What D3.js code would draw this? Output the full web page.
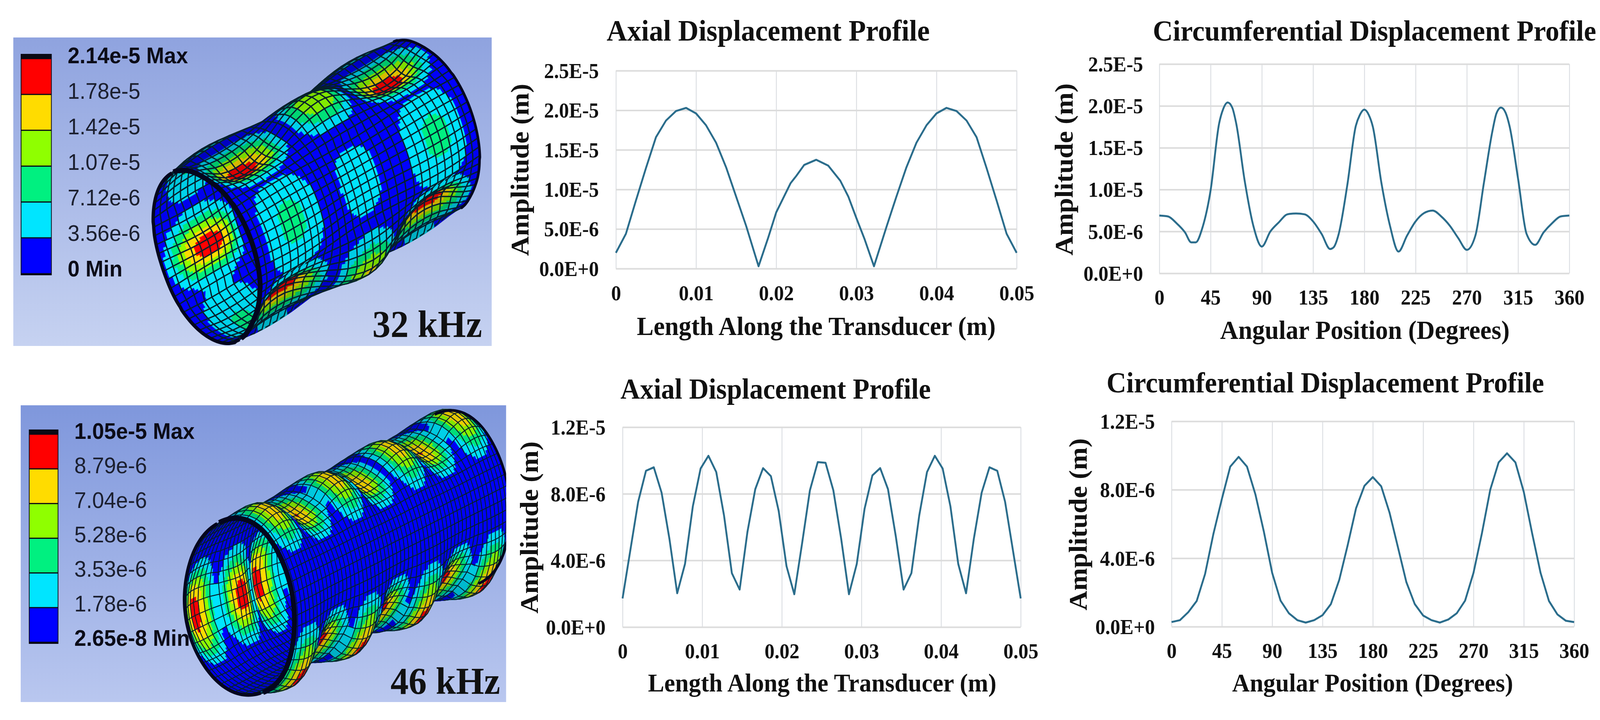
<!DOCTYPE html>
<html>
<head>
<meta charset="utf-8">
<script src="https://cdn.jsdelivr.net/npm/d3@7"></script>
<style>
  html, body { margin: 0; padding: 0; background: #fff; overflow: hidden; }
  text { font-family: "Liberation Serif", serif; font-weight: bold; fill: #111; }
  .legend text { font-family: "Liberation Sans", sans-serif; font-weight: normal; fill: #1c2030; }
  .legend text.ends { font-weight: bold; fill: #0c0c18; }
</style>
</head>
<body>
<div id="figure"></div>
<script>
// values, amplitudes in units of 1e-6 m
var axial32X = [0, 0.00125, 0.0025, 0.00375, 0.005, 0.00625, 0.0075, 0.00875, 0.01, 0.01125, 0.0125, 0.01375, 0.015, 0.01625, 0.0178,
    0.019, 0.02, 0.0218, 0.0225, 0.0235, 0.025, 0.0265, 0.028, 0.029, 0.03, 0.031, 0.0322,
    0.0338, 0.035, 0.03625, 0.0375, 0.03875, 0.04, 0.04125, 0.0425, 0.04375, 0.045, 0.04625, 0.0475, 0.04875, 0.05];
var axial32Y = [2.0, 4.4, 8.6, 12.7, 16.6, 18.7, 19.9, 20.3, 19.6, 18.1, 15.9, 12.8, 9.1, 5.4, 0.3,
    3.9, 7.1, 10.8, 11.7, 13.1, 13.75, 13.0, 11.1, 9.1, 6.4, 3.8, 0.3,
    5.4, 9.1, 12.8, 15.9, 18.1, 19.6, 20.3, 19.9, 18.7, 16.6, 12.7, 8.6, 4.4, 2.0];
var axial32Nodes = [0.0178, 0.0322];

var circ32X = [0, 7.5, 15, 22.5, 28, 32, 37.5, 45, 52.5, 56, 60, 64, 67.5, 75, 82.5, 90, 97.5, 105, 112.5, 120, 127.5, 135, 142.5, 150, 153,
    157.5, 165, 172.5, 176, 180, 184, 187.5, 195, 202.5, 210, 217.5, 225, 232.5, 240, 247.5, 255, 262.5, 270, 277.5, 285, 292.5, 296, 300, 304, 307.5, 315, 322.5,
    330, 337.5, 345, 352.5, 360];
var circ32Y = [6.9, 6.8, 6.0, 4.9, 3.7, 3.7, 5.3, 9.9, 17.9, 19.6, 20.4, 19.8, 17.9, 11.0, 5.7, 3.2, 5.0, 6.1, 7.05, 7.15, 7.05, 6.2, 4.7, 2.9, 3.1,
    4.7, 10.5, 17.6, 18.9, 19.55, 18.9, 17.5, 10.8, 5.7, 2.6, 4.5, 6.2, 7.2, 7.5, 6.8, 5.7, 4.2, 2.8, 4.5, 10.8, 17.0, 19.1, 19.8, 19.2, 17.6, 11.3, 4.7,
    3.4, 4.9, 6.0, 6.8, 6.9];
var circ32Nodes = [30, 90, 150, 210, 270, 330];

var axial46Y = [1.72, 4.62, 7.52, 9.38, 9.59, 8.07, 5.31, 2.03, 3.79, 7.24, 9.52, 10.28, 9.31, 6.69, 3.24, 2.25, 5.72, 8.28, 9.54, 9.06, 6.97, 3.66, 1.97, 5.03, 8.21, 9.90,
    9.86, 8.21, 5.31, 1.97, 3.79, 7.10, 9.10, 9.54, 8.28, 5.45, 2.25, 3.24, 6.69, 9.31, 10.28, 9.52, 7.24, 3.79, 2.03, 5.31, 8.07, 9.59, 9.38, 7.52, 4.62, 1.72];
var axial46X = axial46Y.map(function (d, i) { return i * 0.05 / (axial46Y.length - 1); });
var axial46Nodes = [0.0069, 0.0147, 0.0216, 0.0284, 0.0353, 0.0431];

var circ46X = d3.range(0, 360.1, 7.5);
var circ46Y = [0.27, 0.38, 0.85, 1.5, 3.08, 5.44, 7.46, 9.35, 9.92, 9.35, 7.73, 5.57, 3.14, 1.52, 0.78, 0.38, 0.24, 0.38, 0.67, 1.32, 2.74, 4.76, 6.92, 8.23, 8.74,
    8.2, 6.65, 4.63, 2.6, 1.32, 0.65, 0.38, 0.24, 0.42, 0.78, 1.52, 3.14, 5.44, 8.0, 9.6, 10.13, 9.6, 7.87, 5.44, 3.14, 1.5, 0.72, 0.35, 0.27];
var circ46Nodes = [];

var lengthTicks = [0, 0.01, 0.02, 0.03, 0.04, 0.05];
var lengthLabels = ["0", "0.01", "0.02", "0.03", "0.04", "0.05"];
var angleTicks = [0, 45, 90, 135, 180, 225, 270, 315, 360];
var ampTicks32 = [0, 5, 10, 15, 20, 25];
var ampLabels32 = ["0.0E+0", "5.0E-6", "1.0E-5", "1.5E-5", "2.0E-5", "2.5E-5"];
var ampTicks46 = [0, 4, 8, 12];
var ampLabels46 = ["0.0E+0", "4.0E-6", "8.0E-6", "1.2E-5"];

var legendColors = ["#ff0000", "#ffdc00", "#8fff00", "#00f080", "#00e5ff", "#0000ff"];
var legendLabels32 = ["2.14e-5 Max", "1.78e-5", "1.42e-5", "1.07e-5", "7.12e-6", "3.56e-6", "0 Min"];
var legendValues32 = [21.4, 17.8, 14.2, 10.7, 7.12, 3.56, 0];
var legendLabels46 = ["1.05e-5 Max", "8.79e-6", "7.04e-6", "5.28e-6", "3.53e-6", "1.78e-6", "2.65e-8 Min"];
var legendValues46 = [10.5, 8.79, 7.04, 5.28, 3.53, 1.78, 0.0265];

// the window can be narrower than the figure, so the figure is fitted to it
var svg = d3.select("#figure")
    .append("svg")
    .attr("viewBox", "0 0 4328 1844")
    .attr("preserveAspectRatio", "none")
    .attr("width", window.innerWidth)
    .attr("height", window.innerHeight)
    .style("display", "block");

var defs = svg.append("defs");

function chart(c) {
    var x = d3.scaleLinear().domain(c.xDomain).range([c.left, c.right]);
    var y = d3.scaleLinear().domain(c.yDomain).range([c.bottom, c.top]);
    var g = svg.append("g");

    // gridlines come from the axes themselves
    var xAxis = d3.axisBottom(x).tickValues(c.xTicks).tickSize(c.top - c.bottom).tickPadding(0)
        .tickFormat(function (d, i) { return c.xLabels[i]; });
    var gx = g.append("g").attr("transform", "translate(0," + c.bottom + ")").call(xAxis);
    gx.select(".domain").remove();
    gx.selectAll("line").attr("y2", c.top - c.bottom).attr("stroke", "#dcdfe3").attr("stroke-width", 2.5);
    gx.selectAll("text")
        .attr("y", c.xLabelY - c.bottom)
        .attr("dy", 0)
        .attr("font-size", c.tickSize)
        .attr("font-family", "Liberation Serif")
        .attr("text-anchor", "middle");

    var yAxis = d3.axisLeft(y).tickValues(c.yTicks).tickSize(c.left - c.right).tickPadding(0)
        .tickFormat(function (d, i) { return c.yLabels[i]; });
    var gy = g.append("g").attr("transform", "translate(" + c.left + ",0)").call(yAxis);
    gy.select(".domain").remove();
    gy.selectAll("line").attr("x2", c.right - c.left).attr("stroke", "#dcdcdc").attr("stroke-width", 4);
    gy.selectAll("text")
        .attr("x", c.yLabelX - c.left)
        .attr("dy", "0.34em")
        .attr("font-size", c.tickSize)
        .attr("font-family", "Liberation Serif")
        .attr("text-anchor", "end");

    var line = d3.line()
        .curve(c.smooth ? d3.curveMonotoneX : d3.curveLinear)
        .x(function (d) { return x(d[0]); })
        .y(function (d) { return y(d[1]); });
    g.append("path")
        .datum(d3.zip(c.xs, c.ys))
        .attr("d", line)
        .attr("fill", "none")
        .attr("stroke", "#2b6d8c")
        .attr("stroke-width", 5)
        .attr("stroke-linejoin", "round");

    g.append("text")
        .attr("x", c.titleX).attr("y", c.titleY)
        .attr("text-anchor", "middle")
        .attr("font-size", c.titleSize)
        .text(c.title);
    g.append("text")
        .attr("x", c.xTitleX).attr("y", c.xTitleY)
        .attr("text-anchor", "middle")
        .attr("font-size", c.xTitleSize)
        .text(c.xTitle);
    g.append("text")
        .attr("transform", "translate(" + c.yTitleX + "," + c.yTitleY + ") rotate(-90)")
        .attr("text-anchor", "middle")
        .attr("font-size", c.yTitleSize)
        .text("Amplitude (m)");
}

chart({
    xs: axial32X, ys: axial32Y, xDomain: [0, 0.05], yDomain: [0, 25],
    xTicks: lengthTicks, xLabels: lengthLabels, yTicks: ampTicks32, yLabels: ampLabels32,
    left: 1666, right: 2750, top: 181, bottom: 688, xLabelY: 769, yLabelX: 1620, tickSize: 54,
    title: "Axial Displacement Profile", titleX: 2078, titleY: 104, titleSize: 76.5,
    xTitle: "Length Along the Transducer (m)", xTitleX: 2208, xTitleY: 858, xTitleSize: 68,
    yTitleX: 1430, yTitleY: 435, yTitleSize: 70
});
chart({
    xs: circ32X, ys: circ32Y, xDomain: [0, 360], yDomain: [0, 25], smooth: true,
    xTicks: angleTicks, xLabels: angleTicks, yTicks: ampTicks32, yLabels: ampLabels32,
    left: 3136, right: 4245, top: 164, bottom: 700, xLabelY: 780, yLabelX: 3092, tickSize: 54,
    title: "Circumferential Displacement Profile", titleX: 3718, titleY: 104, titleSize: 75,
    xTitle: "Angular Position (Degrees)", xTitleX: 3692, xTitleY: 868, xTitleSize: 68,
    yTitleX: 2902, yTitleY: 434, yTitleSize: 70
});
chart({
    xs: axial46X, ys: axial46Y, xDomain: [0, 0.05], yDomain: [0, 12],
    xTicks: lengthTicks, xLabels: lengthLabels, yTicks: ampTicks46, yLabels: ampLabels46,
    left: 1684, right: 2761, top: 1094, bottom: 1606, xLabelY: 1686, yLabelX: 1638, tickSize: 54,
    title: "Axial Displacement Profile", titleX: 2098, titleY: 1021, titleSize: 73.5,
    xTitle: "Length Along the Transducer (m)", xTitleX: 2224, xTitleY: 1771, xTitleSize: 66,
    yTitleX: 1455, yTitleY: 1351, yTitleSize: 70
});
chart({
    xs: circ46X, ys: circ46Y, xDomain: [0, 360], yDomain: [0, 12],
    xTicks: angleTicks, xLabels: angleTicks, yTicks: ampTicks46, yLabels: ampLabels46,
    left: 3169, right: 4258, top: 1079, bottom: 1605, xLabelY: 1685, yLabelX: 3124, tickSize: 54,
    title: "Circumferential Displacement Profile", titleX: 3585, titleY: 1005, titleSize: 74,
    xTitle: "Angular Position (Degrees)", xTitleX: 3713, xTitleY: 1771, xTitleSize: 66,
    yTitleX: 2940, yTitleY: 1343, yTitleSize: 70
});

// the FE pictures: a shell whose radial displacement is axial profile x circumferential profile
function meshPanel(p) {
    var id = "panel" + p.name;
    var grad = defs.append("linearGradient").attr("id", id + "g").attr("x1", 0).attr("x2", 0).attr("y1", 0).attr("y2", 1);
    grad.append("stop").attr("offset", 0).attr("stop-color", p.sky[0]);
    grad.append("stop").attr("offset", 1).attr("stop-color", p.sky[1]);
    defs.append("clipPath").attr("id", id + "c").append("rect")
        .attr("x", p.x0).attr("y", p.y0 - 10).attr("width", p.x1 - p.x0).attr("height", p.y1 - p.y0 + 10);

    var g = svg.append("g");
    g.append("rect")
        .attr("x", p.x0).attr("y", p.y0).attr("width", p.x1 - p.x0).attr("height", p.y1 - p.y0)
        .attr("fill", "url(#" + id + "g)");

    var ax = d3.scaleLinear().domain(p.axX).range(p.axY).clamp(true);
    var ci = d3.scaleLinear().domain(p.ciX).range(p.ciY).clamp(true);
    var axMax = d3.max(p.axY), ciMax = d3.max(p.ciY);
    var band = d3.scaleThreshold()
        .domain(p.levels.slice(1, 6).reverse())
        .range(legendColors.slice().reverse());

    var sinB = p.minor / p.R, cosB = Math.sqrt(1 - sinB * sinB);
    var L = p.axisLen / cosB;
    var n = Math.hypot(p.far[0] - p.near[0], p.far[1] - p.near[1]);
    var m = [(p.far[0] - p.near[0]) / n, (p.far[1] - p.near[1]) / n];
    var M = p.major;

    function phi(t) { return (((t * 180 / Math.PI + p.offset) % 360) + 360) % 360; }
    function field(s, t) {
        var xx = s * 0.05, a = phi(t);
        return Math.pow(ax(xx) / axMax * ci(a) / ciMax, p.power);
    }
    function point(s, t) {
        var xx = s * 0.05, a = phi(t);
        var sign = (d3.bisect(p.axNodes, xx) % 2 ? -1 : 1) * (d3.bisect(p.ciNodes, a) % 2 ? -1 : 1);
        var rho = p.R * (1 + p.bulge * sign * (ax(xx) / axMax * ci(a) / ciMax));
        var cs = Math.cos(t), sn = Math.sin(t);
        var along = s * L * cosB + rho * sn * sinB;
        return {
            x: p.near[0] + along * m[0] + rho * cs * M[0],
            y: p.near[1] + along * m[1] + rho * cs * M[1],
            z: -s * L * sinB + rho * sn * cosB
        };
    }
    function quad(s0, s1, t0, t1) {
        var a = point(s0, t0), b = point(s1, t0), c = point(s1, t1), d = point(s0, t1);
        return "M" + [a, b, c, d].map(function (q) { return q.x.toFixed(1) + "," + q.y.toFixed(1); }).join("L") + "Z";
    }

    var cells = [];
    for (var i = 0; i < p.ns; i++) {
        for (var j = 0; j < p.nt; j++) {
            var s0 = i / p.ns, s1 = (i + 1) / p.ns;
            var t0 = j / p.nt * 2 * Math.PI, t1 = (j + 1) / p.nt * 2 * Math.PI;
            cells.push({ s0: s0, s1: s1, t0: t0, t1: t1, z: point((s0 + s1) / 2, (t0 + t1) / 2).z });
        }
    }
    cells.sort(function (a, b) { return a.z - b.z; });

    var sub = 3, pieces = [];
    cells.forEach(function (c) {
        var shade = 0.72 + 0.28 * Math.abs(Math.sin((c.t0 + c.t1) / 2));
        for (var a = 0; a < sub; a++) {
            for (var b = 0; b < sub; b++) {
                var ss0 = c.s0 + (c.s1 - c.s0) * a / sub, ss1 = c.s0 + (c.s1 - c.s0) * (a + 1) / sub;
                var tt0 = c.t0 + (c.t1 - c.t0) * b / sub, tt1 = c.t0 + (c.t1 - c.t0) * (b + 1) / sub;
                var col = d3.rgb(band(field((ss0 + ss1) / 2, (tt0 + tt1) / 2) * p.levels[0]));
                col = d3.rgb(col.r * shade, col.g * shade, col.b * shade) + "";
                pieces.push({ d: quad(ss0, ss1, tt0, tt1), fill: col, stroke: col, w: 0.8 });
            }
        }
        pieces.push({ d: quad(c.s0, c.s1, c.t0, c.t1), fill: "none", stroke: "#06202c", w: p.meshWidth });
    });

    var body = g.append("g").attr("clip-path", "url(#" + id + "c)");
    body.selectAll("path")
        .data(pieces)
        .join("path")
        .attr("d", function (d) { return d.d; })
        .attr("fill", function (d) { return d.fill; })
        .attr("stroke", function (d) { return d.stroke; })
        .attr("stroke-width", function (d) { return d.w; });

    // the dark rims of the ends, only the parts that face the viewer
    var rim = d3.line().x(function (d) { return d.x; }).y(function (d) { return d.y; });
    var top = d3.range(0, Math.PI + 0.01, 0.04);
    body.append("path").attr("d", rim(top.map(function (t) { return point(1, t); })))
        .attr("fill", "none").attr("stroke", "#04061e").attr("stroke-width", 7);
    body.append("path").attr("d", rim(top.map(function (t) { return point(0.004, t); })))
        .attr("fill", "none").attr("stroke", "#04061e").attr("stroke-width", 13);
    body.append("path").attr("d", rim(d3.range(Math.PI, 2 * Math.PI + 0.01, 0.04).map(function (t) { return point(0, t); })))
        .attr("fill", "none").attr("stroke", "#04061e").attr("stroke-width", 9);

    // legend
    var lg = g.append("g").attr("class", "legend");
    var by = d3.scaleLinear().domain([0, 6]).range([p.barTop, p.barBottom]);
    lg.append("rect").attr("x", p.barX0 - 2).attr("width", p.barX1 - p.barX0 + 4)
        .attr("y", p.barTop - 12).attr("height", p.barBottom - p.barTop + 16).attr("fill", "#0a0a14");
    legendColors.forEach(function (col, i) {
        lg.append("rect").attr("x", p.barX0).attr("width", p.barX1 - p.barX0)
            .attr("y", by(i) + 1.5).attr("height", by(i + 1) - by(i) - 3).attr("fill", col);
    });
    var ly = d3.scaleLinear().domain([0, 6]).range([p.labelTop, p.labelBottom]);
    lg.selectAll("text")
        .data(p.labels)
        .join("text")
        .attr("class", function (d, i) { return i === 0 || i === 6 ? "ends" : null; })
        .attr("x", p.labelX)
        .attr("y", function (d, i) { return ly(i); })
        .attr("dy", "0.36em")
        .attr("font-size", 58)
        .text(function (d) { return d; });

    g.append("text")
        .attr("x", p.freqX).attr("y", p.freqY)
        .attr("text-anchor", "end")
        .attr("font-size", 98)
        .text(p.freq);
}

meshPanel({
    name: "32", x0: 36, x1: 1330, y0: 96, y1: 886, sky: ["#8fa3df", "#c6d2f1"],
    axX: axial32X, axY: axial32Y, ciX: circ32X, ciY: circ32Y, axNodes: axial32Nodes, ciNodes: circ32Nodes,
    levels: legendValues32, labels: legendLabels32,
    near: [558, 657], far: [1155, 322], major: [0.40, 0.916], R: 232, minor: 125, axisLen: 684, offset: 38, bulge: 0.25, power: 0.95,
    ns: 30, nt: 60, meshWidth: 3.2,
    barX0: 58, barX1: 138, barTop: 150, barBottom: 701, labelX: 183, labelTop: 141, labelBottom: 687,
    freq: "32 kHz", freqX: 1304, freqY: 863
});
meshPanel({
    name: "46", x0: 56, x1: 1369, y0: 1038, y1: 1798, sky: ["#7f97dc", "#b9c7ef"],
    axX: axial46X, axY: axial46Y, ciX: circ46X, ciY: circ46Y, axNodes: axial46Nodes, ciNodes: circ46Nodes,
    levels: legendValues46, labels: legendLabels46,
    near: [648, 1556], far: [1232, 1278], major: [0.27, 0.963], R: 222, minor: 147, axisLen: 648, offset: 38, bulge: 0.18, power: 1.0,
    ns: 56, nt: 48, meshWidth: 2.2,
    barX0: 80, barX1: 156, barTop: 1112, barBottom: 1645, labelX: 201, labelTop: 1103, labelBottom: 1633,
    freq: "46 kHz", freqX: 1353, freqY: 1777
});
</script>
</body>
</html>
